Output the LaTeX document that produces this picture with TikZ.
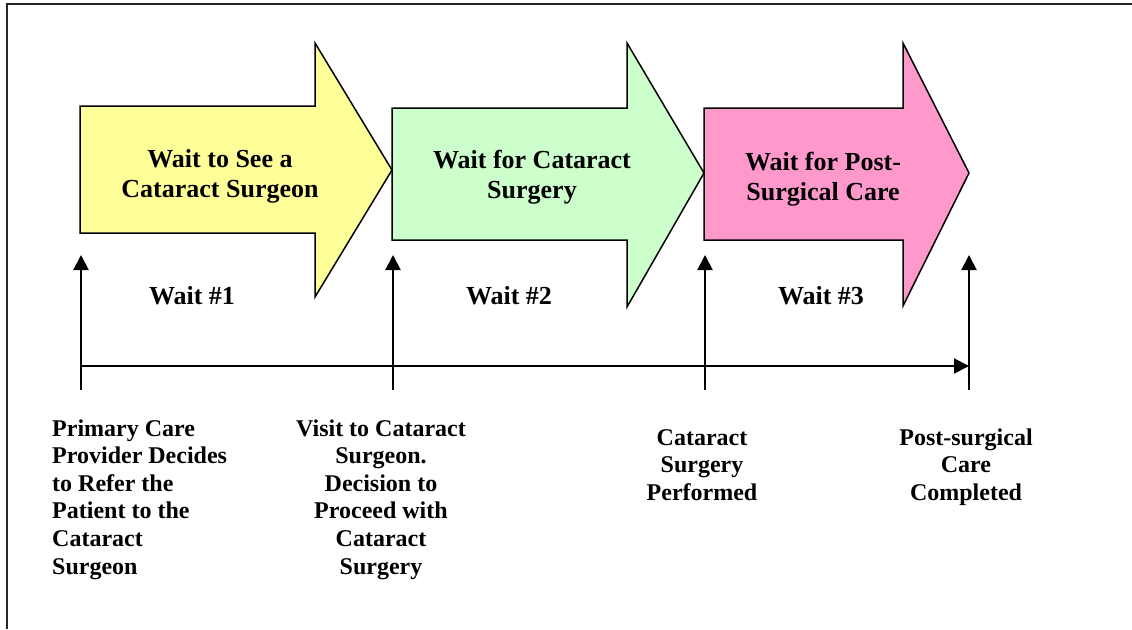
\documentclass[tikz,border=0pt]{standalone}
\usepackage{fontspec}
\setmainfont{Liberation Serif}[BoldFont={Liberation Serif Bold}]
\usetikzlibrary{arrows.meta}
\definecolor{cyellow}{HTML}{FFFF99}
\definecolor{cgreen}{HTML}{CCFFCC}
\definecolor{cpink}{HTML}{FF99CC}
\begin{document}
\begin{tikzpicture}[x=1pt,y=-1pt,
  blockarrow/.style={draw=black,line width=1.5pt,line join=miter},
  title/.style={anchor=base,inner sep=0pt,font=\fontsize{26}{30}\selectfont\bfseries},
  waitlbl/.style={anchor=base,inner sep=0pt,font=\fontsize{26}{30}\selectfont\bfseries},
  evtlbl/.style={inner sep=0pt,font=\fontsize{24}{27.6}\selectfont\bfseries},
  marker/.style={line width=2pt,-{Triangle[length=15pt,width=15pt]}},
  frameline/.style={line width=2pt,draw=black!85}
]
\useasboundingbox (0,0) rectangle (1132,629);
\fill[white] (0,0) rectangle (1132,629);
% frame (cut at right and bottom)
\draw[frameline] (7,629) -- (7,4) -- (1132,4);

% block arrows
\draw[blockarrow,fill=cyellow] (80,106) -- (315,106) -- (315,43) -- (392,170) -- (315,297) -- (315,233) -- (80,233) -- cycle;
\draw[blockarrow,fill=cgreen] (392,108) -- (627,108) -- (627,43) -- (704,173) -- (627,307) -- (627,240) -- (392,240) -- cycle;
\draw[blockarrow,fill=cpink] (704,108) -- (903,108) -- (903,43) -- (969,173) -- (903,306) -- (903,240) -- (704,240) -- cycle;

\node[title] (t1) at (220,167) {\begin{tabular}[t]{@{}c@{}}Wait to See a\\ Cataract Surgeon\end{tabular}};
\node[title] (t2) at (532,168) {\begin{tabular}[t]{@{}c@{}}Wait for Cataract\\ Surgery\end{tabular}};
\node[title] (t3) at (823,170) {\begin{tabular}[t]{@{}c@{}}Wait for Post-\\ Surgical Care\end{tabular}};

% wait labels
\node[waitlbl] (w1) at (192,304) {Wait \#1};
\node[waitlbl] (w2) at (509,304) {Wait \#2};
\node[waitlbl] (w3) at (821,304) {Wait \#3};

% timeline
\coordinate (s) at (81,366);
\coordinate (e) at (969,366);
\draw[marker] (s) -- (e);

\coordinate (b1) at (81,390);  \coordinate (u1) at (81,255);
\coordinate (b2) at (393,390); \coordinate (u2) at (393,255);
\coordinate (b3) at (705,390); \coordinate (u3) at (705,255);
\coordinate (b4) at (969,390); \coordinate (u4) at (969,255);
\draw[marker] (b1) -- (u1);
\draw[marker] (b2) -- (u2);
\draw[marker] (b3) -- (u3);
\draw[marker] (b4) -- (u4);

% event labels
\node[evtlbl,anchor=base west] (l1) at (52,436) {\begin{tabular}[t]{@{}l@{}}Primary Care\\ Provider Decides\\ to Refer the\\ Patient to the\\ Cataract\\ Surgeon\end{tabular}};
\node[evtlbl,anchor=base] (l2) at (381,436) {\begin{tabular}[t]{@{}c@{}}Visit to Cataract\\ Surgeon.\\ Decision to\\ Proceed with\\ Cataract\\ Surgery\end{tabular}};
\node[evtlbl,anchor=base] (l3) at (702,445) {\begin{tabular}[t]{@{}c@{}}Cataract\\ Surgery\\ Performed\end{tabular}};
\node[evtlbl,anchor=base] (l4) at (966,445) {\begin{tabular}[t]{@{}c@{}}Post-surgical\\ Care\\ Completed\end{tabular}};
\end{tikzpicture}
\end{document}
